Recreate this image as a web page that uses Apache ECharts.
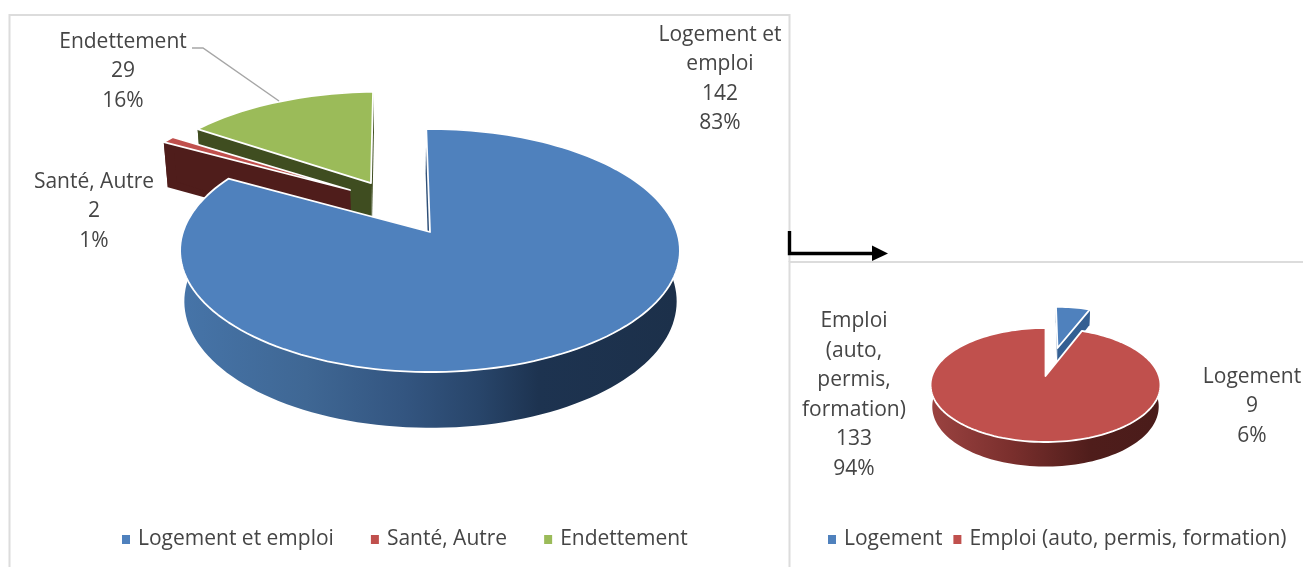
<!DOCTYPE html>
<html>
<head>
<meta charset="utf-8">
<style>html,body{margin:0;padding:0;background:#fff}#main{width:1303px;height:567px}</style>
<script src="https://cdn.jsdelivr.net/npm/echarts@6/dist/echarts.min.js"></script>
</head>
<body>
<div id="main"></div>
<script>
// left pie
var leftNames = ['Logement et emploi', 'Santé, Autre', 'Endettement'];
var leftCounts = [142, 2, 29];
var leftPercents = [83, 1, 16];
// right pie
var rightNames = ['Logement', 'Emploi (auto, permis, formation)'];
var rightCounts = [9, 133];
var rightPercents = [6, 94];

var FONT = '"Open Sans", sans-serif';
var TEXT = '#454545';

// perspective settings of each pie, measured on the picture
var leftPie = { x0: 430, y0: 232, a: 247, b: 118.7, p: 0.1523, d0: 50, d1: 5.8, shrink: 0.985 };
var rightPie = { x0: 1045.5, y0: 376, a: 113.5, b: 55.6, p: 0.158, d0: 21, d1: 3.5, shrink: 0.985 };

// lead and trail widen (or narrow) a slice by some degrees at its two cuts
var leftStyles = [
  { top: '#4f81bd', cut: '#2f5078', shift: [0, 0], z: 3, dx: 0.5, cutDx: -1.2, lead: 1, trail: 0,
    wall: [[0, '#4674a8'], [0.25, '#3f6794'], [0.45, '#335580'], [0.6, '#28456a'], [0.72, '#1d3350'], [1, '#1c304a']] },
  { top: '#c0504d', cut: '#4f1d1b', shift: [-0.342, 0.374], z: 2, dx: 0, cutDx: 0, lead: 0, trail: 0,
    wall: [[0, '#4f1d1b'], [1, '#4f1d1b']] },
  { top: '#9bbb59', cut: '#3f4d20', shift: [-0.255, 0.44], z: 1, dx: 0, cutDx: 0, lead: -1.6, trail: -1.5,
    wall: [[0, '#3f4d20'], [1, '#3f4d20']] }
];
var rightStyles = [
  { top: '#4f81bd', cut: '#345f92', shift: [0.115, 0.547], z: 1, dx: 0, cutDx: 0, lead: 0, trail: 0,
    wall: [[0, '#345f92'], [1, '#345f92']] },
  { top: '#c0504d', cut: '#7a2f2d', shift: [0, 0], z: 2, dx: 0, cutDx: 0, lead: 0, trail: 0,
    wall: [[0, '#9a4240'], [0.35, '#7a2f2d'], [0.7, '#4f1d1b'], [1, '#4a1c1a']] }
];

// point of the pie plane, u to the right, v to the back
function project(pie, u, v, low, dx) {
  var s = 1 / (1 + pie.p * v);
  if (!low) {
    return [pie.x0 + pie.a * u * s, pie.y0 - pie.b * v * s];
  }
  return [pie.x0 + pie.a * pie.shrink * u * s + dx, pie.y0 - pie.b * v * s + pie.d0 - pie.d1 * v];
}

function pieSeries(pie, names, percents, counts, styles, index) {
  var before = 0;
  for (var i = 0; i < index; i++) before += percents[i];
  var st = styles[index];
  var from = before * 3.6 - st.lead;
  var to = (before + percents[index]) * 3.6 + st.trail;

  return {
    type: 'custom',
    name: names[index],
    coordinateSystem: 'none',
    silent: true,
    animation: false,
    itemStyle: { color: st.top },
    data: [[counts[index], percents[index]]],
    renderItem: function () {
      var rim = [], rimLow = [];
      var steps = Math.ceil((to - from) / 2);
      for (var k = 0; k <= steps; k++) {
        var r = (from + (to - from) * k / steps) * Math.PI / 180;
        var u = st.shift[0] + Math.sin(r), v = st.shift[1] + Math.cos(r);
        rim.push(project(pie, u, v));
        rimLow.push(project(pie, u, v, true, st.dx));
      }
      var apex = project(pie, st.shift[0], st.shift[1]);
      var apexLow = project(pie, st.shift[0], st.shift[1], true, st.dx);
      var firstLow = [rimLow[0][0] + st.cutDx, rimLow[0][1]];
      var apexCut = [apexLow[0] + st.cutDx, apexLow[1]];
      var grad = new echarts.graphic.LinearGradient(pie.x0 - pie.a, 0, pie.x0 + pie.a, 0,
        st.wall.map(function (c) { return { offset: c[0], color: c[1] }; }), true);
      return {
        type: 'group',
        children: [
          { type: 'polygon', z2: st.z, shape: { points: [apex, rim[0], firstLow, apexCut] }, style: { fill: st.cut } },
          { type: 'polygon', z2: st.z, shape: { points: [apex, rim[steps], rimLow[steps], apexLow] }, style: { fill: st.cut } },
          { type: 'polygon', z2: st.z, shape: { points: rim.concat(rimLow.slice().reverse()) }, style: { fill: grad } },
          { type: 'polygon', z2: st.z + 0.5, shape: { points: [apex].concat(rim) },
            style: { fill: st.top, stroke: '#fff', lineWidth: 1.8, lineJoin: 'round' } }
        ]
      };
    }
  };
}

function labelText(lines, count, percent) {
  return lines.concat([count, percent + '%']).join('\n');
}

function label(x, y, text) {
  return {
    type: 'text', x: x, y: y, z: 10,
    style: { text: text, font: '21px ' + FONT, fill: TEXT, align: 'center', verticalAlign: 'top', lineHeight: 29.5 }
  };
}

var series = [];
leftNames.forEach(function (n, i) { series.push(pieSeries(leftPie, leftNames, leftPercents, leftCounts, leftStyles, i)); });
rightNames.forEach(function (n, i) { series.push(pieSeries(rightPie, rightNames, rightPercents, rightCounts, rightStyles, i)); });

var legendText = { fontFamily: FONT, fontSize: 21, color: TEXT, padding: [0, 0, 0, 3] };

var myChart = echarts.init(document.getElementById('main'), null, { renderer: 'canvas' });
myChart.setOption({
  backgroundColor: '#fff',
  animation: false,
  legend: [
    { data: leftNames, left: 122, top: 529, padding: 0, icon: 'rect', itemWidth: 8, itemHeight: 9, itemGap: 37, textStyle: legendText, selectedMode: false },
    { data: rightNames, left: 828, top: 529, padding: 0, icon: 'rect', itemWidth: 8, itemHeight: 9, itemGap: 11, textStyle: legendText, selectedMode: false }
  ],
  graphic: [
    // chart frames
    { type: 'polyline', z: 0, shape: { points: [[9.5, 567], [9.5, 15], [789.5, 15], [789.5, 262]] }, style: { fill: null, stroke: '#dcdcdc', lineWidth: 2 } },
    { type: 'polyline', z: 0, shape: { points: [[789.5, 567], [789.5, 262], [1303, 262]] }, style: { fill: null, stroke: '#dcdcdc', lineWidth: 2 } },
    // arrow between the charts
    { type: 'polyline', z: 5, shape: { points: [[789.5, 231], [789.5, 253.5], [874, 253.5]] }, style: { fill: null, stroke: '#000', lineWidth: 3.4 } },
    { type: 'polygon', z: 5, shape: { points: [[872, 245.5], [888, 253.5], [872, 261]] }, style: { fill: '#000' } },
    // leader line of Endettement
    { type: 'polyline', z: 5, shape: { points: [[192, 48], [203, 48], [279, 101]] }, style: { fill: null, stroke: '#a6a6a6', lineWidth: 1.5 } },
    label(720, 20, labelText(['Logement et', 'emploi'], leftCounts[0], leftPercents[0])),
    label(123, 27, labelText([leftNames[2]], leftCounts[2], leftPercents[2])),
    label(94, 167, labelText([leftNames[1]], leftCounts[1], leftPercents[1])),
    label(1252, 362, labelText([rightNames[0]], rightCounts[0], rightPercents[0])),
    label(854, 306.5, labelText(['Emploi', '(auto,', 'permis,', 'formation)'], rightCounts[1], rightPercents[1]))
  ],
  series: series
});
</script>
</body>
</html>
